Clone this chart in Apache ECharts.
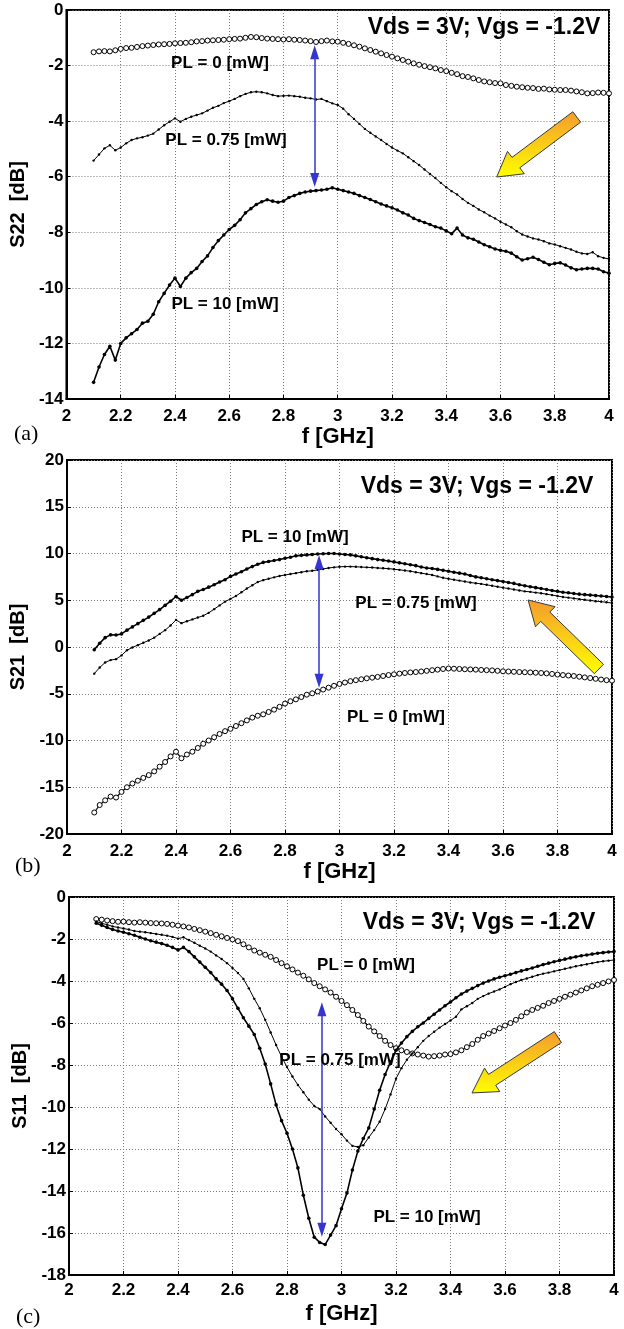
<!DOCTYPE html>
<html><head><meta charset="utf-8">
<script src="https://cdn.jsdelivr.net/npm/echarts@6/dist/echarts.min.js"></script>
<style>html,body{margin:0;padding:0;background:#fff}#c{width:624px;height:1329px}</style>
</head><body><div id="c"></div>
<script>
// frequency samples [GHz]
const freq = [2.10,2.12,2.14,2.16,2.18,2.20,2.22,2.24,2.26,2.28,
 2.30,2.32,2.34,2.36,2.38,2.40,2.42,2.44,2.46,2.48,
 2.50,2.52,2.54,2.56,2.58,2.60,2.62,2.64,2.66,2.68,
 2.70,2.72,2.74,2.76,2.78,2.80,2.82,2.84,2.86,2.88,
 2.90,2.92,2.94,2.96,2.98,3.00,3.02,3.04,3.06,3.08,
 3.10,3.12,3.14,3.16,3.18,3.20,3.22,3.24,3.26,3.28,
 3.30,3.32,3.34,3.36,3.38,3.40,3.42,3.44,3.46,3.48,
 3.50,3.52,3.54,3.56,3.58,3.60,3.62,3.64,3.66,3.68,
 3.70,3.72,3.74,3.76,3.78,3.80,3.82,3.84,3.86,3.88,
 3.90,3.92,3.94,3.96,3.98,4.00];

// (a) S22 [dB]
const s22_PL0 = [-1.52,-1.49,-1.48,-1.49,-1.45,-1.40,-1.37,-1.36,-1.33,-1.30,
 -1.28,-1.26,-1.24,-1.23,-1.22,-1.20,-1.19,-1.18,-1.16,-1.13,
 -1.12,-1.10,-1.09,-1.08,-1.07,-1.05,-1.04,-1.03,-1.00,-0.97,
 -0.98,-1.01,-1.03,-1.04,-1.05,-1.06,-1.05,-1.07,-1.08,-1.10,
 -1.12,-1.15,-1.12,-1.10,-1.13,-1.14,-1.18,-1.22,-1.27,-1.32,
 -1.38,-1.44,-1.50,-1.56,-1.62,-1.68,-1.74,-1.80,-1.86,-1.92,
 -1.97,-2.02,-2.06,-2.10,-2.16,-2.20,-2.26,-2.31,-2.38,-2.41,
 -2.46,-2.52,-2.57,-2.60,-2.63,-2.64,-2.70,-2.73,-2.76,-2.78,
 -2.80,-2.81,-2.84,-2.83,-2.86,-2.87,-2.88,-2.88,-2.90,-2.93,
 -2.96,-3.00,-2.99,-2.97,-2.98,-3.00];
const s22_PL075 = [-5.42,-5.20,-4.98,-4.87,-5.05,-4.95,-4.80,-4.68,-4.62,-4.58,
 -4.52,-4.45,-4.30,-4.15,-4.02,-3.90,-4.02,-3.92,-3.84,-3.78,
 -3.72,-3.62,-3.52,-3.45,-3.35,-3.28,-3.20,-3.10,-3.02,-2.96,
 -2.94,-2.96,-3.00,-3.06,-3.10,-3.09,-3.08,-3.10,-3.12,-3.16,
 -3.18,-3.22,-3.20,-3.28,-3.36,-3.42,-3.55,-3.75,-3.92,-4.10,
 -4.28,-4.42,-4.55,-4.68,-4.82,-4.95,-5.06,-5.16,-5.30,-5.44,
 -5.58,-5.74,-5.90,-6.05,-6.22,-6.38,-6.52,-6.64,-6.80,-6.94,
 -7.05,-7.18,-7.28,-7.40,-7.50,-7.62,-7.72,-7.82,-7.96,-8.08,
 -8.15,-8.22,-8.26,-8.32,-8.40,-8.44,-8.50,-8.56,-8.62,-8.70,
 -8.76,-8.78,-8.72,-8.86,-8.92,-8.96];
const s22_PL10 = [-13.40,-12.85,-12.40,-12.10,-12.60,-12.00,-11.80,-11.65,-11.50,-11.27,
 -11.20,-10.95,-10.50,-10.20,-9.90,-9.65,-9.95,-9.65,-9.45,-9.30,
 -9.05,-8.85,-8.55,-8.30,-8.10,-7.90,-7.75,-7.55,-7.30,-7.15,
 -7.00,-6.90,-6.83,-6.88,-6.92,-6.88,-6.75,-6.68,-6.60,-6.55,
 -6.52,-6.50,-6.48,-6.45,-6.40,-6.45,-6.50,-6.55,-6.60,-6.68,
 -6.75,-6.82,-6.90,-6.98,-7.05,-7.12,-7.20,-7.30,-7.38,-7.50,
 -7.58,-7.65,-7.72,-7.80,-7.85,-7.95,-8.05,-7.85,-8.10,-8.20,
 -8.25,-8.35,-8.45,-8.52,-8.60,-8.65,-8.68,-8.75,-8.88,-9.00,
 -8.95,-8.90,-8.98,-9.08,-9.17,-9.12,-9.10,-9.18,-9.28,-9.35,
 -9.32,-9.30,-9.30,-9.32,-9.42,-9.47];

// (b) S21 [dB]
const s21_PL10 = [-0.30,0.40,1.00,1.30,1.28,1.40,1.80,2.15,2.50,2.85,
 3.20,3.60,4.00,4.45,4.90,5.40,5.00,5.30,5.60,5.95,
 6.15,6.40,6.65,6.95,7.20,7.55,7.80,8.05,8.35,8.60,
 8.85,9.05,9.15,9.25,9.35,9.50,9.60,9.75,9.80,9.85,
 9.90,9.95,9.98,10.00,10.00,9.95,9.90,9.85,9.75,9.65,
 9.55,9.45,9.35,9.28,9.20,9.10,9.00,8.90,8.80,8.70,
 8.55,8.45,8.40,8.30,8.20,8.10,8.00,7.90,7.80,7.65,
 7.50,7.40,7.30,7.20,7.10,7.00,6.90,6.80,6.65,6.55,
 6.45,6.35,6.25,6.15,6.05,5.95,5.85,5.80,5.72,5.65,
 5.60,5.55,5.50,5.45,5.40,5.35];
const s21_PL075 = [-2.85,-2.20,-1.65,-1.40,-1.30,-0.90,-0.35,-0.05,0.20,0.45,
 0.70,1.00,1.40,1.80,2.30,2.90,2.55,2.75,2.95,3.15,
 3.35,3.65,4.05,4.45,4.85,5.15,5.45,5.85,6.25,6.60,
 6.95,7.15,7.30,7.45,7.60,7.70,7.80,7.90,8.00,8.10,
 8.15,8.25,8.35,8.45,8.52,8.58,8.60,8.60,8.58,8.55,
 8.52,8.50,8.45,8.42,8.38,8.32,8.25,8.18,8.10,8.00,
 7.90,7.80,7.70,7.55,7.40,7.30,7.20,7.10,7.00,6.90,
 6.82,6.75,6.65,6.55,6.45,6.35,6.25,6.15,6.05,5.95,
 5.90,5.82,5.75,5.65,5.55,5.45,5.35,5.28,5.20,5.12,
 5.05,4.98,4.90,4.85,4.78,4.70];
const s21_PL0 = [-17.70,-16.90,-16.40,-16.00,-16.10,-15.50,-15.00,-14.60,-14.30,-14.00,
 -13.70,-13.30,-12.80,-12.30,-11.70,-11.20,-11.90,-11.50,-11.20,-10.80,
 -10.35,-10.00,-9.65,-9.30,-9.00,-8.75,-8.45,-8.15,-7.85,-7.55,
 -7.35,-7.20,-6.95,-6.70,-6.40,-6.05,-5.80,-5.60,-5.35,-5.10,
 -4.95,-4.75,-4.55,-4.35,-4.15,-3.95,-3.80,-3.65,-3.55,-3.45,
 -3.35,-3.28,-3.20,-3.10,-3.00,-2.92,-2.85,-2.78,-2.72,-2.68,
 -2.62,-2.55,-2.48,-2.42,-2.35,-2.30,-2.32,-2.35,-2.38,-2.40,
 -2.42,-2.45,-2.48,-2.50,-2.55,-2.60,-2.62,-2.65,-2.68,-2.70,
 -2.72,-2.75,-2.78,-2.82,-2.88,-2.95,-3.00,-3.05,-3.10,-3.18,
 -3.25,-3.32,-3.40,-3.48,-3.55,-3.60];

// (c) S11 [dB]
const s11_PL0 = [-1.05,-1.08,-1.12,-1.15,-1.18,-1.17,-1.20,-1.22,-1.20,-1.22,
 -1.24,-1.25,-1.26,-1.28,-1.32,-1.36,-1.40,-1.45,-1.52,-1.58,
 -1.65,-1.72,-1.80,-1.87,-1.95,-2.02,-2.10,-2.25,-2.40,-2.55,
 -2.65,-2.75,-2.85,-3.00,-3.15,-3.30,-3.45,-3.60,-3.75,-3.92,
 -4.10,-4.25,-4.40,-4.55,-4.75,-4.95,-5.15,-5.38,-5.62,-5.90,
 -6.17,-6.40,-6.62,-6.85,-7.05,-7.20,-7.30,-7.38,-7.45,-7.50,
 -7.55,-7.60,-7.58,-7.55,-7.50,-7.48,-7.40,-7.30,-7.15,-7.00,
 -6.80,-6.62,-6.50,-6.38,-6.25,-6.12,-6.00,-5.85,-5.68,-5.50,
 -5.38,-5.28,-5.18,-5.05,-4.95,-4.85,-4.75,-4.65,-4.55,-4.45,
 -4.35,-4.25,-4.18,-4.10,-4.02,-3.95];
const s11_PL075 = [-1.17,-1.25,-1.32,-1.40,-1.45,-1.50,-1.55,-1.62,-1.65,-1.68,
 -1.72,-1.76,-1.80,-1.84,-1.90,-1.98,-1.92,-2.05,-2.18,-2.32,
 -2.45,-2.60,-2.78,-2.95,-3.15,-3.38,-3.62,-3.90,-4.35,-4.85,
 -5.30,-5.85,-6.45,-7.05,-7.60,-8.10,-8.55,-8.95,-9.30,-9.65,
 -9.95,-10.10,-10.45,-10.75,-11.05,-11.30,-11.60,-11.85,-11.90,-11.82,
 -11.45,-11.10,-10.70,-10.10,-9.40,-8.65,-8.15,-7.75,-7.45,-7.15,
 -6.85,-6.62,-6.42,-6.22,-6.05,-5.88,-5.70,-5.35,-5.20,-5.05,
 -4.85,-4.72,-4.60,-4.50,-4.40,-4.28,-4.15,-4.05,-3.95,-3.88,
 -3.80,-3.72,-3.65,-3.60,-3.54,-3.48,-3.42,-3.36,-3.30,-3.25,
 -3.20,-3.15,-3.10,-3.06,-3.03,-3.00];
const s11_PL10 = [-1.25,-1.35,-1.45,-1.55,-1.62,-1.68,-1.75,-1.82,-1.92,-2.00,
 -2.08,-2.15,-2.22,-2.30,-2.40,-2.52,-2.40,-2.60,-2.85,-3.10,
 -3.35,-3.60,-3.90,-4.15,-4.45,-4.85,-5.30,-5.75,-6.15,-6.55,
 -7.20,-7.95,-8.90,-9.90,-10.65,-11.25,-12.00,-12.90,-14.20,-15.30,
 -16.20,-16.45,-16.55,-16.10,-15.65,-14.85,-14.10,-13.00,-12.10,-11.50,
 -11.00,-10.10,-9.20,-8.45,-7.85,-7.30,-6.95,-6.65,-6.40,-6.18,
 -6.00,-5.78,-5.58,-5.38,-5.18,-5.00,-4.80,-4.62,-4.48,-4.35,
 -4.22,-4.10,-4.00,-3.90,-3.82,-3.75,-3.68,-3.60,-3.52,-3.45,
 -3.38,-3.30,-3.22,-3.15,-3.08,-3.02,-2.96,-2.90,-2.85,-2.80,
 -2.76,-2.72,-2.68,-2.65,-2.62,-2.60];

// axis ranges
const yRange = [[-14, 0, 2], [-20, 20, 5], [-18, 0, 2]];
const yNames = ['S22  [dB]', 'S21  [dB]', 'S11  [dB]'];
const xName = 'f [GHz]';
const panelTags = ['(a)', '(b)', '(c)'];
const seriesNames = ['PL = 0 [mW]', 'PL = 0.75 [mW]', 'PL = 10 [mW]'];
const panelData = [
  [s22_PL0, s22_PL075, s22_PL10],
  [s21_PL0, s21_PL075, s21_PL10],
  [s11_PL0, s11_PL075, s11_PL10]
];

// layout
const grids = [
  {left: 54, top: 10, width: 555, height: 389},
  {left: 67, top: 460, width: 545, height: 374},
  {left: 69, top: 897, width: 545, height: 378}
];
const FONT = '"Liberation Sans", Arial, Helvetica, sans-serif';

// annotations (data coords)
const blueArrows = [
  [[2.915, -1.52], [2.915, -6.12]],
  [[2.925, 9.10], [2.925, -3.62]],
  [[2.928, -5.34], [2.928, -15.85]]
];
const yellowArrows = [ // tail, head
  [[3.881, -3.85], [3.586, -6.01]],
  [[3.952, -2.35], [3.692, 5.03]],
  [[3.794, -6.67], [3.479, -9.33]]
];
const labels = [ // panel, text, x px center, y px center, size
  [0, 'Vds = 3V; Vgs = -1.2V', 484, 28, 23],
  [0, 'PL = 0 [mW]', 220, 63, 17],
  [0, 'PL = 0.75 [mW]', 226, 140, 17],
  [0, 'PL = 10 [mW]', 225, 304, 17],
  [1, 'Vds = 3V; Vgs = -1.2V', 477, 487, 23],
  [1, 'PL = 10 [mW]', 295, 537, 17],
  [1, 'PL = 0.75 [mW]', 416, 603, 17],
  [1, 'PL = 0 [mW]', 396, 717, 17],
  [2, 'Vds = 3V; Vgs = -1.2V', 479, 923, 23],
  [2, 'PL = 0 [mW]', 366, 965, 17],
  [2, 'PL = 0.75 [mW]', 340, 1060, 17],
  [2, 'PL = 10 [mW]', 427, 1217, 17]
];
const tagPos = [[14, 434], [15, 866], [16, 1317]];

const chart = echarts.init(document.getElementById('c'), null, {renderer: 'canvas'});

const seriesStyles = [
  {symbol: 'circle', symbolSize: 5, itemStyle: {color: '#fff', borderColor: '#000', borderWidth: 1}, lineStyle: {color: '#000', width: 1.2}},
  {symbol: 'circle', symbolSize: 2.4, itemStyle: {color: '#000', borderWidth: 0}, lineStyle: {color: '#000', width: 1}},
  {symbol: 'circle', symbolSize: 3.6, itemStyle: {color: '#000', borderWidth: 0}, lineStyle: {color: '#000', width: 1.6}}
];

const series = [];
panelData.forEach((arrs, gi) => {
  arrs.forEach((vals, si) => {
    const s = Object.assign({
      type: 'line', name: seriesNames[si], xAxisIndex: gi, yAxisIndex: gi,
      data: freq.map((f, i) => [f, vals[i]]),
      showSymbol: true, silent: true, animation: false, z: 3 + si,
      emphasis: {disabled: true}
    }, JSON.parse(JSON.stringify(seriesStyles[si])));
    if (si === 0) {
      s.markLine = {
        silent: true, animation: false,
        symbol: ['triangle', 'triangle'], symbolSize: [9, 14],
        label: {show: false},
        lineStyle: {color: '#3535d0', width: 1.5, type: 'solid'},
        itemStyle: {color: '#3535d0'},
        emphasis: {disabled: true},
        data: [[{coord: blueArrows[gi][0]}, {coord: blueArrows[gi][1]}]]
      };
    }
    series.push(s);
  });
});

const xAxes = grids.map((g, i) => ({
  type: 'value', gridIndex: i, min: 2, max: 4, interval: 0.2,
  name: xName, nameLocation: 'middle', nameGap: i === 2 ? 28 : 24,
  nameTextStyle: {fontFamily: FONT, fontWeight: 'bold', fontSize: 22, color: '#000'},
  axisLine: {show: true, onZero: false, lineStyle: {color: '#000', width: 2}},
  axisTick: {show: true, inside: true, length: 4, lineStyle: {color: '#000'}},
  axisLabel: {fontFamily: FONT, fontWeight: 'bold', fontSize: 17, color: '#000', margin: i === 2 ? 7 : 9},
  splitLine: {show: true, lineStyle: {color: '#7a7a7a', type: [1, 2], width: 1}}
}));
const yAxes = grids.map((g, i) => ({
  type: 'value', gridIndex: i, min: yRange[i][0], max: yRange[i][1], interval: yRange[i][2],
  name: yNames[i], nameLocation: 'middle', nameGap: 24, nameRotate: 90,
  nameTextStyle: {fontFamily: FONT, fontWeight: 'bold', fontSize: 20, color: '#000'},
  axisLine: {show: true, onZero: false, lineStyle: {color: '#000', width: 2}},
  axisTick: {show: true, inside: true, length: 4, lineStyle: {color: '#000'}},
  axisLabel: {fontFamily: FONT, fontWeight: 'bold', fontSize: 17, color: '#000', margin: 3},
  splitLine: {show: true, lineStyle: {color: '#7a7a7a', type: [1, 2], width: 1}}
}));

chart.setOption({
  animation: false,
  backgroundColor: '#fff',
  grid: grids.map(g => Object.assign({show: true, borderColor: '#000', borderWidth: 2, backgroundColor: 'transparent'}, g)),
  xAxis: xAxes,
  yAxis: yAxes,
  series: series
});

// graphic overlays
const graphics = [];
function yellowArrow(gi, tail, head) {
  const T = chart.convertToPixel({gridIndex: gi}, tail);
  const H = chart.convertToPixel({gridIndex: gi}, head);
  const dx = H[0] - T[0], dy = H[1] - T[1];
  const L = Math.hypot(dx, dy);
  const ux = dx / L, uy = dy / L;
  const nx = -uy, ny = ux;
  const w = 6.5, hw = 14, hl = 24;
  const B = [H[0] - ux * hl, H[1] - uy * hl];
  const pts = [
    [T[0] + nx * w, T[1] + ny * w],
    [B[0] + nx * w, B[1] + ny * w],
    [B[0] + nx * hw, B[1] + ny * hw],
    [H[0], H[1]],
    [B[0] - nx * hw, B[1] - ny * hw],
    [B[0] - nx * w, B[1] - ny * w],
    [T[0] - nx * w, T[1] - ny * w]
  ];
  graphics.push({
    type: 'polygon', z: 100, silent: true,
    shape: {points: pts},
    style: {
      fill: new echarts.graphic.LinearGradient(0, 0, 0, 1, [
        {offset: 0, color: '#f59a2e'}, {offset: 1, color: '#ffff00'}
      ]),
      stroke: '#3a3a3a', lineWidth: 1
    }
  });
}
yellowArrows.forEach((a, gi) => yellowArrow(gi, a[0], a[1]));

labels.forEach(l => {
  graphics.push({
    type: 'text', z: 100, silent: true, x: l[2], y: l[3],
    style: {text: l[1], fill: '#000', font: 'bold ' + l[4] + 'px ' + FONT, align: 'center', verticalAlign: 'middle'}
  });
});
panelTags.forEach((t, i) => {
  graphics.push({
    type: 'text', z: 100, silent: true, x: tagPos[i][0], y: tagPos[i][1],
    style: {text: t, fill: '#000', font: '22px "Liberation Serif", "Times New Roman", serif', align: 'left', verticalAlign: 'middle'}
  });
});
chart.setOption({graphic: graphics});
</script>
</body></html>
